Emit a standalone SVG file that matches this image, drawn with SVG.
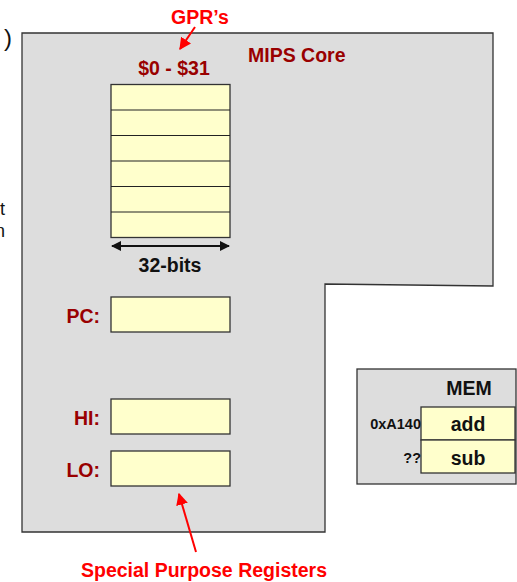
<svg xmlns="http://www.w3.org/2000/svg" width="517" height="582" viewBox="0 0 517 582">
<style>
text{font-family:"Liberation Sans",Arial,sans-serif;font-weight:bold}
.dr{fill:#990000;font-size:19.5px}
.red{fill:#ff0000;font-size:19.5px}
.blk{fill:#111;font-size:19.5px}
.sm{fill:#111;font-size:14.5px}
.frag{font-weight:normal;fill:#111;font-size:18px}
.reg{fill:#ffffcc;stroke:#333;stroke-width:1.3}
.core{fill:#dddddd;stroke:#333;stroke-width:1.3}
.rline{stroke:#222;stroke-width:1.2}
</style>
<defs>
<marker id="ra" viewBox="0 0 10 10" refX="9" refY="5" markerWidth="6" markerHeight="6" orient="auto-start-reverse"><path d="M0,0 L10,5 L0,10 z" fill="#ff0000"/></marker>
<marker id="ka" viewBox="0 0 10 10" refX="9" refY="5" markerWidth="5" markerHeight="5" orient="auto-start-reverse"><path d="M0,0 L10,5 L0,10 z" fill="#111"/></marker>
</defs>
<text class="frag" x="12" y="46" text-anchor="end" style="font-size:24px">)</text>
<text class="frag" x="5" y="215" text-anchor="end">t</text>
<text class="frag" x="5" y="237" text-anchor="end">n</text>
<g id="core">
<polygon class="core" points="22,33 493,33 493,286 325,284 325,532 22,532"/>
<text class="dr" x="248" y="62">MIPS Core</text>
</g>
<g id="gpr">
<text class="dr" x="174" y="75" text-anchor="middle">$0 - $31</text>
<rect class="reg" x="111" y="84.5" width="119" height="153"/>
<line class="rline" x1="111" y1="110" x2="230" y2="110"/>
<line class="rline" x1="111" y1="135.5" x2="230" y2="135.5"/>
<line class="rline" x1="111" y1="161" x2="230" y2="161"/>
<line class="rline" x1="111" y1="186.5" x2="230" y2="186.5"/>
<line class="rline" x1="111" y1="212" x2="230" y2="212"/>
<text class="blk" x="170" y="272" text-anchor="middle">32-bits</text>
</g>
<g id="pc">
<text class="dr" x="100" y="323" text-anchor="end">PC:</text>
<rect class="reg" x="111" y="297" width="119" height="35"/>
</g>
<g id="hi">
<text class="dr" x="100" y="425" text-anchor="end">HI:</text>
<rect class="reg" x="111" y="399" width="119" height="35"/>
</g>
<g id="lo">
<text class="dr" x="100" y="477" text-anchor="end">LO:</text>
<rect class="reg" x="111" y="451" width="119" height="35"/>
</g>
<g id="mem">
<rect class="core" x="357" y="369" width="159" height="115"/>
<text class="blk" x="469" y="395" text-anchor="middle">MEM</text>
<rect class="reg" x="421" y="407" width="94" height="33"/>
<rect class="reg" x="421" y="440" width="94" height="33"/>
<text class="blk" x="468" y="431" text-anchor="middle">add</text>
<text class="blk" x="468" y="465" text-anchor="middle">sub</text>
<text class="sm" x="421" y="429" text-anchor="end">0xA140</text>
<text class="sm" x="421" y="463" text-anchor="end">??</text>
</g>
<g id="gpr-label">
<text class="red" x="200" y="24" text-anchor="middle">GPR’s</text>
</g>
<g id="spr-label">
<text class="red" x="204" y="577" text-anchor="middle">Special Purpose Registers</text>
</g>
<g id="connectors">
<line x1="195" y1="27" x2="180" y2="49" stroke="#ff0000" stroke-width="2" marker-end="url(#ra)"/>
<line x1="196" y1="552" x2="179" y2="494" stroke="#ff0000" stroke-width="2" marker-end="url(#ra)"/>
<line x1="112" y1="246" x2="229" y2="246" stroke="#111" stroke-width="2" marker-start="url(#ka)" marker-end="url(#ka)"/>
</g>
</svg>
